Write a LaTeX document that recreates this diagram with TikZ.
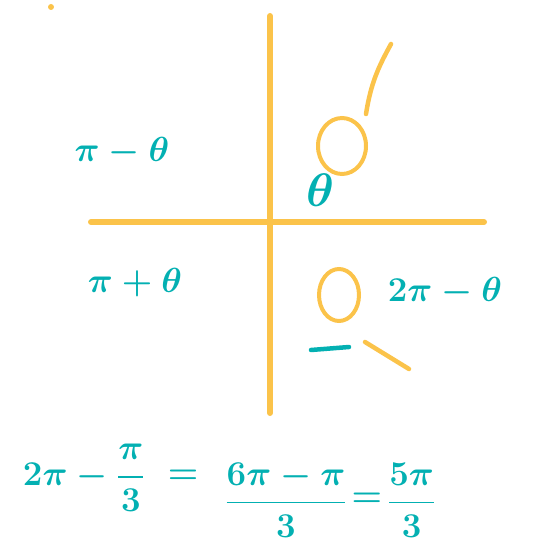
\documentclass[tikz,border=0pt]{standalone}
\usepackage{amsmath}
\usetikzlibrary{positioning}
\definecolor{yc}{RGB}{251,195,74}
\definecolor{tc}{RGB}{3,176,178}
\tikzset{ax/.style={draw=yc,line width=6pt,line cap=round},
 pen/.style={line width=4.5pt,line cap=round},ring/.style={draw=yc,line width=4pt},
 lb/.style={text=tc,inner sep=0pt,scale=1.4,font=\Huge\boldmath}}
\begin{document}
\begin{tikzpicture}[x=1pt,y=-1pt]
\useasboundingbox (0,0) rectangle (540,556);
\fill[yc] (51,7) circle (3pt);
% axes
\draw[ax] (270,16)--(270,413);\draw[ax] (91,222)--(484,222);
% quadrant labels
\node[lb] (qtwo) at (122,152) {$\pi-\theta$};\node[lb] (qthree) at (135,283) {$\pi+\theta$};
\node[lb] (qfour) at (445,292) {$2\pi-\theta$};\node[lb,scale=1.35] (ang) at (320,190) {$\theta$};
% marks
\draw[ring] (342,146) ellipse [x radius=24pt,y radius=28pt];\draw[pen,yc] (366,114) .. controls (371,82) and (379,66) .. (391,44);
\draw[ring] (339,295) ellipse [x radius=20pt,y radius=26pt];
\draw[pen,tc] (311,350)--(349,347);\draw[pen,yc] (365,342)--(409,369);
% worked value
\node[lb] (lhs) at (84,478) {$2\pi-\dfrac{\pi}{3}$};\node[lb] (eqa) at (183,477) {$=$};
\node[lb] (mid) at (286,500) {$\dfrac{6\pi-\pi}{3}$};\node[lb,right=4pt of mid] (eqb) {$=$};
\node[lb,right=5pt of eqb] (rhs) {$\dfrac{5\pi}{3}$};
\end{tikzpicture}
\end{document}
